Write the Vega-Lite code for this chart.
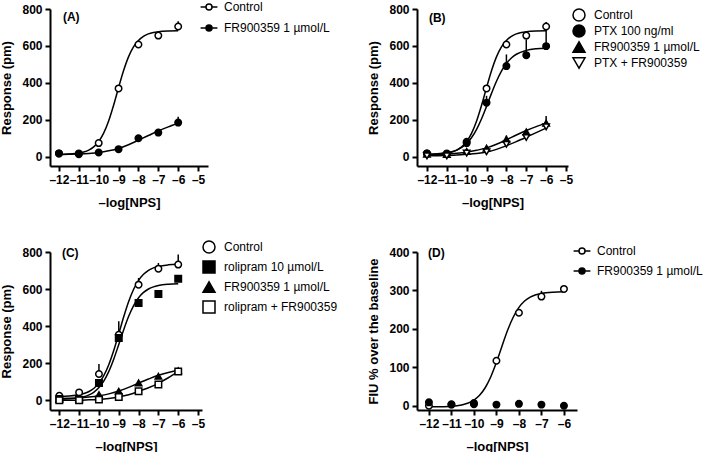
{
"$schema": "https://vega.github.io/schema/vega-lite/v6.json",
"padding": {"left": 0, "top": 0, "right": 0, "bottom": 0},
"background": "white",
"config": {
 "font": "Liberation Sans",
 "view": {"stroke": null},
 "axis": {"domainColor": "black", "domainWidth": 2, "tickColor": "black", "tickWidth": 2, "tickSize": 5, "labelFont": "Liberation Sans", "labelFontSize": 12, "labelFontWeight": "bold", "labelColor": "black", "titleFont": "Liberation Sans", "titleFontSize": 13, "titleFontWeight": "bold", "titleColor": "black", "grid": false, "labelOverlap": false, "labelFlush": false, "labelBound": false},
 "axisX": {"labelPadding": 3, "titlePadding": 11},
 "axisY": {"labelPadding": 3, "titlePadding": 8},
 "legend": {"title": null, "orient": "none", "direction": "vertical", "padding": 0, "labelFont": "Liberation Sans", "labelFontSize": 12, "labelColor": "black", "labelOffset": 8, "symbolSize": 144}
},
"datasets": {
 "pts": [
  {"p":"A","s":"Control","x":-12,"y":18,"hi":22},{"p":"A","s":"Control","x":-11,"y":18,"hi":22},{"p":"A","s":"Control","x":-10,"y":74,"hi":85},{"p":"A","s":"Control","x":-9,"y":370,"hi":380},{"p":"A","s":"Control","x":-8,"y":608,"hi":615},{"p":"A","s":"Control","x":-7,"y":656,"hi":662},{"p":"A","s":"Control","x":-6,"y":705,"hi":734},
  {"p":"A","s":"FR900359 1 µmol/L","x":-12,"y":18,"hi":18},{"p":"A","s":"FR900359 1 µmol/L","x":-11,"y":14,"hi":14},{"p":"A","s":"FR900359 1 µmol/L","x":-10,"y":23,"hi":23},{"p":"A","s":"FR900359 1 µmol/L","x":-9,"y":41,"hi":41},{"p":"A","s":"FR900359 1 µmol/L","x":-8,"y":100,"hi":104},{"p":"A","s":"FR900359 1 µmol/L","x":-7,"y":131,"hi":136},{"p":"A","s":"FR900359 1 µmol/L","x":-6,"y":185,"hi":216},
  {"p":"B","s":"Control","x":-12,"y":18,"hi":20},{"p":"B","s":"Control","x":-11,"y":18,"hi":20},{"p":"B","s":"Control","x":-10,"y":81,"hi":90},{"p":"B","s":"Control","x":-9,"y":370,"hi":380},{"p":"B","s":"Control","x":-8,"y":608,"hi":615},{"p":"B","s":"Control","x":-7,"y":656,"hi":662},{"p":"B","s":"Control","x":-6,"y":705,"hi":730},
  {"p":"B","s":"PTX 100 ng/ml","x":-12,"y":18,"hi":18},{"p":"B","s":"PTX 100 ng/ml","x":-11,"y":14,"hi":14},{"p":"B","s":"PTX 100 ng/ml","x":-10,"y":74,"hi":80},{"p":"B","s":"PTX 100 ng/ml","x":-9,"y":293,"hi":330},{"p":"B","s":"PTX 100 ng/ml","x":-8,"y":491,"hi":554},{"p":"B","s":"PTX 100 ng/ml","x":-7,"y":550,"hi":635},{"p":"B","s":"PTX 100 ng/ml","x":-6,"y":599,"hi":705},
  {"p":"B","s":"FR900359 1 µmol/L","x":-12,"y":14,"hi":14},{"p":"B","s":"FR900359 1 µmol/L","x":-11,"y":13,"hi":13},{"p":"B","s":"FR900359 1 µmol/L","x":-10,"y":29,"hi":29},{"p":"B","s":"FR900359 1 µmol/L","x":-9,"y":47,"hi":52},{"p":"B","s":"FR900359 1 µmol/L","x":-8,"y":95,"hi":115},{"p":"B","s":"FR900359 1 µmol/L","x":-7,"y":135,"hi":140},{"p":"B","s":"FR900359 1 µmol/L","x":-6,"y":182,"hi":221},
  {"p":"B","s":"PTX + FR900359","x":-12,"y":5,"hi":5},{"p":"B","s":"PTX + FR900359","x":-11,"y":5,"hi":5},{"p":"B","s":"PTX + FR900359","x":-10,"y":20,"hi":22},{"p":"B","s":"PTX + FR900359","x":-9,"y":27,"hi":30},{"p":"B","s":"PTX + FR900359","x":-8,"y":68,"hi":72},{"p":"B","s":"PTX + FR900359","x":-7,"y":104,"hi":110},{"p":"B","s":"PTX + FR900359","x":-6,"y":162,"hi":170},
  {"p":"C","s":"Control","x":-12,"y":25,"hi":28},{"p":"C","s":"Control","x":-11,"y":43,"hi":48},{"p":"C","s":"Control","x":-10,"y":142,"hi":196},{"p":"C","s":"Control","x":-9,"y":354,"hi":426},{"p":"C","s":"Control","x":-8,"y":624,"hi":660},{"p":"C","s":"Control","x":-7,"y":710,"hi":741},{"p":"C","s":"Control","x":-6,"y":732,"hi":786},
  {"p":"C","s":"rolipram 10 µmol/L","x":-12,"y":7,"hi":7},{"p":"C","s":"rolipram 10 µmol/L","x":-11,"y":4,"hi":4},{"p":"C","s":"rolipram 10 µmol/L","x":-10,"y":94,"hi":98},{"p":"C","s":"rolipram 10 µmol/L","x":-9,"y":336,"hi":345},{"p":"C","s":"rolipram 10 µmol/L","x":-8,"y":525,"hi":535},{"p":"C","s":"rolipram 10 µmol/L","x":-7,"y":574,"hi":574},{"p":"C","s":"rolipram 10 µmol/L","x":-6,"y":656,"hi":656},
  {"p":"C","s":"FR900359 1 µmol/L","x":-12,"y":7,"hi":7},{"p":"C","s":"FR900359 1 µmol/L","x":-11,"y":9,"hi":9},{"p":"C","s":"FR900359 1 µmol/L","x":-10,"y":31,"hi":35},{"p":"C","s":"FR900359 1 µmol/L","x":-9,"y":49,"hi":52},{"p":"C","s":"FR900359 1 µmol/L","x":-8,"y":94,"hi":96},{"p":"C","s":"FR900359 1 µmol/L","x":-7,"y":130,"hi":133},{"p":"C","s":"FR900359 1 µmol/L","x":-6,"y":160,"hi":162},
  {"p":"C","s":"rolipram + FR900359","x":-12,"y":0,"hi":0},{"p":"C","s":"rolipram + FR900359","x":-11,"y":0,"hi":0},{"p":"C","s":"rolipram + FR900359","x":-10,"y":4,"hi":4},{"p":"C","s":"rolipram + FR900359","x":-9,"y":18,"hi":20},{"p":"C","s":"rolipram + FR900359","x":-8,"y":49,"hi":52},{"p":"C","s":"rolipram + FR900359","x":-7,"y":85,"hi":88},{"p":"C","s":"rolipram + FR900359","x":-6,"y":156,"hi":160},
  {"p":"D","s":"Control","x":-12,"y":0,"hi":0},{"p":"D","s":"Control","x":-11,"y":3,"hi":3},{"p":"D","s":"Control","x":-10,"y":4,"hi":4},{"p":"D","s":"Control","x":-9,"y":117,"hi":117},{"p":"D","s":"Control","x":-8,"y":242,"hi":242},{"p":"D","s":"Control","x":-7,"y":284,"hi":299},{"p":"D","s":"Control","x":-6,"y":304,"hi":304},
  {"p":"D","s":"FR900359 1 µmol/L","x":-12,"y":9,"hi":9},{"p":"D","s":"FR900359 1 µmol/L","x":-11,"y":4,"hi":4},{"p":"D","s":"FR900359 1 µmol/L","x":-10,"y":7,"hi":7},{"p":"D","s":"FR900359 1 µmol/L","x":-9,"y":3,"hi":3},{"p":"D","s":"FR900359 1 µmol/L","x":-8,"y":5,"hi":5},{"p":"D","s":"FR900359 1 µmol/L","x":-7,"y":3,"hi":3},{"p":"D","s":"FR900359 1 µmol/L","x":-6,"y":0,"hi":0}
 ],
 "fit": [
  {"p":"A","s":"Control","x":-12,"y":12.8},{"p":"A","s":"Control","x":-11.5,"y":14.5},{"p":"A","s":"Control","x":-11,"y":19.8},{"p":"A","s":"Control","x":-10.75,"y":25.7},{"p":"A","s":"Control","x":-10.5,"y":36},{"p":"A","s":"Control","x":-10.25,"y":53.7},{"p":"A","s":"Control","x":-10,"y":82.6},{"p":"A","s":"Control","x":-9.75,"y":127.9},{"p":"A","s":"Control","x":-9.5,"y":193.8},{"p":"A","s":"Control","x":-9.25,"y":278.9},{"p":"A","s":"Control","x":-9,"y":374.5},{"p":"A","s":"Control","x":-8.75,"y":465.7},{"p":"A","s":"Control","x":-8.5,"y":540.8},{"p":"A","s":"Control","x":-8.25,"y":595},{"p":"A","s":"Control","x":-8,"y":630},{"p":"A","s":"Control","x":-7.75,"y":652.3},{"p":"A","s":"Control","x":-7.5,"y":665.4},{"p":"A","s":"Control","x":-7.25,"y":673},{"p":"A","s":"Control","x":-7,"y":677.3},{"p":"A","s":"Control","x":-6.5,"y":681.2},{"p":"A","s":"Control","x":-6,"y":682.4},
  {"p":"A","s":"FR","x":-12,"y":12},{"p":"A","s":"FR","x":-11.5,"y":13},{"p":"A","s":"FR","x":-11,"y":15},{"p":"A","s":"FR","x":-10.5,"y":18},{"p":"A","s":"FR","x":-10,"y":23},{"p":"A","s":"FR","x":-9.5,"y":32},{"p":"A","s":"FR","x":-9,"y":45},{"p":"A","s":"FR","x":-8.5,"y":65},{"p":"A","s":"FR","x":-8,"y":90},{"p":"A","s":"FR","x":-7.5,"y":115},{"p":"A","s":"FR","x":-7,"y":140},{"p":"A","s":"FR","x":-6.5,"y":162},{"p":"A","s":"FR","x":-6,"y":182},
  {"p":"B","s":"Control","x":-12,"y":12.8},{"p":"B","s":"Control","x":-11.5,"y":14.5},{"p":"B","s":"Control","x":-11,"y":19.8},{"p":"B","s":"Control","x":-10.75,"y":25.7},{"p":"B","s":"Control","x":-10.5,"y":36},{"p":"B","s":"Control","x":-10.25,"y":53.7},{"p":"B","s":"Control","x":-10,"y":82.6},{"p":"B","s":"Control","x":-9.75,"y":127.9},{"p":"B","s":"Control","x":-9.5,"y":193.8},{"p":"B","s":"Control","x":-9.25,"y":278.9},{"p":"B","s":"Control","x":-9,"y":374.5},{"p":"B","s":"Control","x":-8.75,"y":465.7},{"p":"B","s":"Control","x":-8.5,"y":540.8},{"p":"B","s":"Control","x":-8.25,"y":595},{"p":"B","s":"Control","x":-8,"y":630},{"p":"B","s":"Control","x":-7.75,"y":652.3},{"p":"B","s":"Control","x":-7.5,"y":665.4},{"p":"B","s":"Control","x":-7.25,"y":673},{"p":"B","s":"Control","x":-7,"y":677.3},{"p":"B","s":"Control","x":-6.5,"y":681.2},{"p":"B","s":"Control","x":-6,"y":682.4},
  {"p":"B","s":"PTX","x":-12,"y":13.3},{"p":"B","s":"PTX","x":-11.5,"y":15.5},{"p":"B","s":"PTX","x":-11,"y":21.3},{"p":"B","s":"PTX","x":-10.75,"y":27.1},{"p":"B","s":"PTX","x":-10.5,"y":36.2},{"p":"B","s":"PTX","x":-10.25,"y":50.4},{"p":"B","s":"PTX","x":-10,"y":72.1},{"p":"B","s":"PTX","x":-9.75,"y":104},{"p":"B","s":"PTX","x":-9.5,"y":148.4},{"p":"B","s":"PTX","x":-9.25,"y":205.7},{"p":"B","s":"PTX","x":-9,"y":272.8},{"p":"B","s":"PTX","x":-8.75,"y":343.1},{"p":"B","s":"PTX","x":-8.5,"y":408.7},{"p":"B","s":"PTX","x":-8.25,"y":463.5},{"p":"B","s":"PTX","x":-8,"y":505},{"p":"B","s":"PTX","x":-7.75,"y":535},{"p":"B","s":"PTX","x":-7.5,"y":555},{"p":"B","s":"PTX","x":-7,"y":576},{"p":"B","s":"PTX","x":-6.5,"y":584.8},{"p":"B","s":"PTX","x":-6,"y":588},
  {"p":"B","s":"FR","x":-12,"y":12},{"p":"B","s":"FR","x":-11.5,"y":13},{"p":"B","s":"FR","x":-11,"y":15},{"p":"B","s":"FR","x":-10.5,"y":19},{"p":"B","s":"FR","x":-10,"y":25},{"p":"B","s":"FR","x":-9.5,"y":35},{"p":"B","s":"FR","x":-9,"y":48},{"p":"B","s":"FR","x":-8.5,"y":68},{"p":"B","s":"FR","x":-8,"y":92},{"p":"B","s":"FR","x":-7.5,"y":118},{"p":"B","s":"FR","x":-7,"y":142},{"p":"B","s":"FR","x":-6.5,"y":163},{"p":"B","s":"FR","x":-6,"y":182},
  {"p":"B","s":"PTXFR","x":-12,"y":5},{"p":"B","s":"PTXFR","x":-11.5,"y":5.5},{"p":"B","s":"PTXFR","x":-11,"y":7},{"p":"B","s":"PTXFR","x":-10.5,"y":9},{"p":"B","s":"PTXFR","x":-10,"y":13},{"p":"B","s":"PTXFR","x":-9.5,"y":18},{"p":"B","s":"PTXFR","x":-9,"y":26},{"p":"B","s":"PTXFR","x":-8.5,"y":40},{"p":"B","s":"PTXFR","x":-8,"y":60},{"p":"B","s":"PTXFR","x":-7.5,"y":82},{"p":"B","s":"PTXFR","x":-7,"y":106},{"p":"B","s":"PTXFR","x":-6.5,"y":131},{"p":"B","s":"PTXFR","x":-6,"y":155},
  {"p":"C","s":"Control","x":-12,"y":21.3},{"p":"C","s":"Control","x":-11.5,"y":23.6},{"p":"C","s":"Control","x":-11,"y":30.1},{"p":"C","s":"Control","x":-10.75,"y":36.7},{"p":"C","s":"Control","x":-10.5,"y":47.7},{"p":"C","s":"Control","x":-10.25,"y":65.3},{"p":"C","s":"Control","x":-10,"y":92.9},{"p":"C","s":"Control","x":-9.75,"y":134.4},{"p":"C","s":"Control","x":-9.5,"y":193.4},{"p":"C","s":"Control","x":-9.25,"y":269.8},{"p":"C","s":"Control","x":-9,"y":359.1},{"p":"C","s":"Control","x":-8.75,"y":450.6},{"p":"C","s":"Control","x":-8.5,"y":533},{"p":"C","s":"Control","x":-8.25,"y":599.3},{"p":"C","s":"Control","x":-8,"y":647.4},{"p":"C","s":"Control","x":-7.75,"y":680},{"p":"C","s":"Control","x":-7.5,"y":701.2},{"p":"C","s":"Control","x":-7.25,"y":714.5},{"p":"C","s":"Control","x":-7,"y":722.6},{"p":"C","s":"Control","x":-6.5,"y":730.6},{"p":"C","s":"Control","x":-6,"y":733.4},
  {"p":"C","s":"ROL","x":-12,"y":6.1},{"p":"C","s":"ROL","x":-11.5,"y":8.2},{"p":"C","s":"ROL","x":-11,"y":13.8},{"p":"C","s":"ROL","x":-10.75,"y":19.6},{"p":"C","s":"ROL","x":-10.5,"y":29.2},{"p":"C","s":"ROL","x":-10.25,"y":44.6},{"p":"C","s":"ROL","x":-10,"y":68.7},{"p":"C","s":"ROL","x":-9.75,"y":105},{"p":"C","s":"ROL","x":-9.5,"y":156.5},{"p":"C","s":"ROL","x":-9.25,"y":223.4},{"p":"C","s":"ROL","x":-9,"y":301.4},{"p":"C","s":"ROL","x":-8.75,"y":381.3},{"p":"C","s":"ROL","x":-8.5,"y":453.5},{"p":"C","s":"ROL","x":-8.25,"y":511.3},{"p":"C","s":"ROL","x":-8,"y":553.4},{"p":"C","s":"ROL","x":-7.75,"y":582},{"p":"C","s":"ROL","x":-7.5,"y":600.5},{"p":"C","s":"ROL","x":-7.25,"y":612},{"p":"C","s":"ROL","x":-7,"y":619.2},{"p":"C","s":"ROL","x":-6.5,"y":626.1},{"p":"C","s":"ROL","x":-6,"y":628.6},
  {"p":"C","s":"FR","x":-12,"y":10},{"p":"C","s":"FR","x":-11.5,"y":11},{"p":"C","s":"FR","x":-11,"y":13},{"p":"C","s":"FR","x":-10.5,"y":18},{"p":"C","s":"FR","x":-10,"y":25},{"p":"C","s":"FR","x":-9.5,"y":35},{"p":"C","s":"FR","x":-9,"y":50},{"p":"C","s":"FR","x":-8.5,"y":70},{"p":"C","s":"FR","x":-8,"y":93},{"p":"C","s":"FR","x":-7.5,"y":115},{"p":"C","s":"FR","x":-7,"y":135},{"p":"C","s":"FR","x":-6.5,"y":150},{"p":"C","s":"FR","x":-6,"y":162},
  {"p":"C","s":"ROLFR","x":-12,"y":0},{"p":"C","s":"ROLFR","x":-11.5,"y":0.5},{"p":"C","s":"ROLFR","x":-11,"y":1},{"p":"C","s":"ROLFR","x":-10.5,"y":3},{"p":"C","s":"ROLFR","x":-10,"y":5},{"p":"C","s":"ROLFR","x":-9.5,"y":10},{"p":"C","s":"ROLFR","x":-9,"y":18},{"p":"C","s":"ROLFR","x":-8.5,"y":30},{"p":"C","s":"ROLFR","x":-8,"y":48},{"p":"C","s":"ROLFR","x":-7.5,"y":68},{"p":"C","s":"ROLFR","x":-7,"y":92},{"p":"C","s":"ROLFR","x":-6.5,"y":122},{"p":"C","s":"ROLFR","x":-6,"y":155},
  {"p":"D","s":"Control","x":-12,"y":-2.8},{"p":"D","s":"Control","x":-11.5,"y":-2.4},{"p":"D","s":"Control","x":-11,"y":-1.1},{"p":"D","s":"Control","x":-10.75,"y":0.3},{"p":"D","s":"Control","x":-10.5,"y":2.9},{"p":"D","s":"Control","x":-10.25,"y":7.3},{"p":"D","s":"Control","x":-10,"y":14.8},{"p":"D","s":"Control","x":-9.75,"y":27.3},{"p":"D","s":"Control","x":-9.5,"y":46.9},{"p":"D","s":"Control","x":-9.25,"y":75.6},{"p":"D","s":"Control","x":-9,"y":113.1},{"p":"D","s":"Control","x":-8.75,"y":155.6},{"p":"D","s":"Control","x":-8.5,"y":196.9},{"p":"D","s":"Control","x":-8.25,"y":231},{"p":"D","s":"Control","x":-8,"y":256},{"p":"D","s":"Control","x":-7.75,"y":272.5},{"p":"D","s":"Control","x":-7.5,"y":282.7},{"p":"D","s":"Control","x":-7.25,"y":288.8},{"p":"D","s":"Control","x":-7,"y":292.3},{"p":"D","s":"Control","x":-6.5,"y":295.5},{"p":"D","s":"Control","x":-6,"y":296.5}
 ]
},
"columns": 2,
"bounds": "flush",
"align": "all",
"spacing": {"row": 85, "column": 207},
"resolve": {"scale": {"x": "independent", "y": "independent", "shape": "independent", "fill": "independent"}, "legend": {"shape": "independent", "fill": "independent"}},
"concat": [
 {"width": 158, "height": 157,
  "layer": [
   {"data": {"name": "fit"}, "transform": [{"filter": "datum.p == 'A'"}],
    "mark": {"type": "line", "color": "black", "strokeWidth": 1.5, "interpolate": "monotone"},
    "encoding": {
     "x": {"field": "x", "type": "quantitative", "scale": {"domain": [-12.45, -4.5], "nice": false, "zero": false}, "axis": {"values": [-12,-11,-10,-9,-8,-7,-6,-5], "title": "–log[NPS]", "labelExpr": "replace(datum.label, '−', '–')"}},
     "y": {"field": "y", "type": "quantitative", "scale": {"domain": [-50, 800], "nice": false, "zero": false}, "axis": {"values": [0,200,400,600,800], "title": "Response (pm)"}},
     "detail": {"field": "s", "type": "nominal"}}},
   {"data": {"name": "pts"}, "transform": [{"filter": "datum.p == 'A'"}],
    "mark": {"type": "rule", "color": "black", "strokeWidth": 1.5},
    "encoding": {
     "x": {"field": "x", "type": "quantitative", "scale": {"domain": [-12.45, -4.5], "nice": false, "zero": false}, "axis": {"values": [-12,-11,-10,-9,-8,-7,-6,-5], "title": "–log[NPS]", "labelExpr": "replace(datum.label, '−', '–')"}},
     "y": {"field": "y", "type": "quantitative", "scale": {"domain": [-50, 800], "nice": false, "zero": false}, "axis": {"values": [0,200,400,600,800], "title": "Response (pm)"}},
     "y2": {"field": "hi"}}},
   {"data": {"name": "pts"}, "transform": [{"filter": "datum.p == 'A'"}],
    "mark": {"type": "point", "filled": true, "stroke": "black", "strokeWidth": 1.5, "size": 42, "opacity": 1},
    "encoding": {
     "x": {"field": "x", "type": "quantitative", "scale": {"domain": [-12.45, -4.5], "nice": false, "zero": false}, "axis": {"values": [-12,-11,-10,-9,-8,-7,-6,-5], "title": "–log[NPS]", "labelExpr": "replace(datum.label, '−', '–')"}},
     "y": {"field": "y", "type": "quantitative", "scale": {"domain": [-50, 800], "nice": false, "zero": false}, "axis": {"values": [0,200,400,600,800], "title": "Response (pm)"}},
     "shape": {"field": "s", "type": "nominal", "scale": {"domain": ["Control", "FR900359 1 µmol/L", "zz"], "range": ["circle", "circle", "circle"]}, "legend": null},
     "fill": {"field": "s", "type": "nominal", "scale": {"domain": ["Control", "FR900359 1 µmol/L"], "range": ["white", "black"]},
      "legend": {"legendX": 152, "legendY": -9, "rowPadding": 8, "symbolType": "M-1.4,0H-0.5M0.5,0H1.4M-0.5,0A0.5,0.5 0 1,1 0.5,0A0.5,0.5 0 1,1 -0.5,0Z",
       "encode": {"symbols": {
        "shape": {"value": "M-1.4,0H-0.5M0.5,0H1.4M-0.5,0A0.5,0.5 0 1,1 0.5,0A0.5,0.5 0 1,1 -0.5,0Z"},
        "stroke": {"value": "black"}, "strokeWidth": {"value": 1.5}, "size": {"value": 144}, "opacity": {"value": 1}}}}}}},
   {"data": {"values": [{"t": "(A)"}]},
    "mark": {"type": "text", "font": "Liberation Sans", "fontSize": 12, "fontWeight": "bold", "align": "left", "baseline": "middle", "color": "black"},
    "encoding": {
     "x": {"datum": -11.8, "type": "quantitative", "scale": {"domain": [-12.45, -4.5], "nice": false, "zero": false}, "axis": {"values": [-12,-11,-10,-9,-8,-7,-6,-5], "title": "–log[NPS]", "labelExpr": "replace(datum.label, '−', '–')"}},
     "y": {"datum": 757, "type": "quantitative", "scale": {"domain": [-50, 800], "nice": false, "zero": false}, "axis": {"values": [0,200,400,600,800], "title": "Response (pm)"}},
     "text": {"field": "t"}}}
  ]},
 {"width": 151, "height": 157,
  "layer": [
   {"data": {"name": "fit"}, "transform": [{"filter": "datum.p == 'B'"}],
    "mark": {"type": "line", "color": "black", "strokeWidth": 1.5, "interpolate": "monotone"},
    "encoding": {
     "x": {"field": "x", "type": "quantitative", "scale": {"domain": [-12.5, -4.9], "nice": false, "zero": false}, "axis": {"values": [-12,-11,-10,-9,-8,-7,-6,-5], "title": "–log[NPS]", "labelExpr": "replace(datum.label, '−', '–')"}},
     "y": {"field": "y", "type": "quantitative", "scale": {"domain": [-50, 800], "nice": false, "zero": false}, "axis": {"values": [0,200,400,600,800], "title": "Response (pm)"}},
     "detail": {"field": "s", "type": "nominal"}}},
   {"data": {"name": "pts"}, "transform": [{"filter": "datum.p == 'B'"}],
    "mark": {"type": "rule", "color": "black", "strokeWidth": 1.5},
    "encoding": {
     "x": {"field": "x", "type": "quantitative", "scale": {"domain": [-12.5, -4.9], "nice": false, "zero": false}, "axis": {"values": [-12,-11,-10,-9,-8,-7,-6,-5], "title": "–log[NPS]", "labelExpr": "replace(datum.label, '−', '–')"}},
     "y": {"field": "y", "type": "quantitative", "scale": {"domain": [-50, 800], "nice": false, "zero": false}, "axis": {"values": [0,200,400,600,800], "title": "Response (pm)"}},
     "y2": {"field": "hi"}}},
   {"data": {"name": "pts"}, "transform": [{"filter": "datum.p == 'B'"}],
    "mark": {"type": "point", "filled": true, "stroke": "black", "strokeWidth": 1.5, "size": 42, "opacity": 1},
    "encoding": {
     "x": {"field": "x", "type": "quantitative", "scale": {"domain": [-12.5, -4.9], "nice": false, "zero": false}, "axis": {"values": [-12,-11,-10,-9,-8,-7,-6,-5], "title": "–log[NPS]", "labelExpr": "replace(datum.label, '−', '–')"}},
     "y": {"field": "y", "type": "quantitative", "scale": {"domain": [-50, 800], "nice": false, "zero": false}, "axis": {"values": [0,200,400,600,800], "title": "Response (pm)"}},
     "shape": {"field": "s", "type": "nominal", "scale": {"domain": ["Control", "PTX 100 ng/ml", "FR900359 1 µmol/L", "PTX + FR900359"], "range": ["circle", "circle", "triangle-up", "triangle-down"]},
      "legend": {"legendX": 155, "legendY": -1, "rowPadding": -2.3,
       "encode": {"symbols": {"stroke": {"value": "black"}, "strokeWidth": {"value": 1.5}, "size": {"value": 110}, "opacity": {"value": 1}}}}},
     "fill": {"field": "s", "type": "nominal", "scale": {"domain": ["Control", "PTX 100 ng/ml", "FR900359 1 µmol/L", "PTX + FR900359"], "range": ["white", "black", "black", "white"]},
      "legend": {"legendX": 155, "legendY": -1, "rowPadding": -2.3,
       "encode": {"symbols": {"stroke": {"value": "black"}, "strokeWidth": {"value": 1.5}, "size": {"value": 110}, "opacity": {"value": 1}}}}}}},
   {"data": {"values": [{"t": "(B)"}]},
    "mark": {"type": "text", "font": "Liberation Sans", "fontSize": 12, "fontWeight": "bold", "align": "left", "baseline": "middle", "color": "black"},
    "encoding": {
     "x": {"datum": -11.9, "type": "quantitative", "scale": {"domain": [-12.5, -4.9], "nice": false, "zero": false}, "axis": {"values": [-12,-11,-10,-9,-8,-7,-6,-5], "title": "–log[NPS]", "labelExpr": "replace(datum.label, '−', '–')"}},
     "y": {"datum": 751, "type": "quantitative", "scale": {"domain": [-50, 800], "nice": false, "zero": false}, "axis": {"values": [0,200,400,600,800], "title": "Response (pm)"}},
     "text": {"field": "t"}}}
  ]},
 {"width": 152, "height": 158,
  "layer": [
   {"data": {"name": "fit"}, "transform": [{"filter": "datum.p == 'C'"}],
    "mark": {"type": "line", "color": "black", "strokeWidth": 1.5, "interpolate": "monotone"},
    "encoding": {
     "x": {"field": "x", "type": "quantitative", "scale": {"domain": [-12.47, -4.8], "nice": false, "zero": false}, "axis": {"values": [-12,-11,-10,-9,-8,-7,-6,-5], "title": "–log[NPS]", "labelExpr": "replace(datum.label, '−', '–')"}},
     "y": {"field": "y", "type": "quantitative", "scale": {"domain": [-52, 800], "nice": false, "zero": false}, "axis": {"values": [0,200,400,600,800], "title": "Response (pm)"}},
     "detail": {"field": "s", "type": "nominal"}}},
   {"data": {"name": "pts"}, "transform": [{"filter": "datum.p == 'C'"}],
    "mark": {"type": "rule", "color": "black", "strokeWidth": 1.5},
    "encoding": {
     "x": {"field": "x", "type": "quantitative", "scale": {"domain": [-12.47, -4.8], "nice": false, "zero": false}, "axis": {"values": [-12,-11,-10,-9,-8,-7,-6,-5], "title": "–log[NPS]", "labelExpr": "replace(datum.label, '−', '–')"}},
     "y": {"field": "y", "type": "quantitative", "scale": {"domain": [-52, 800], "nice": false, "zero": false}, "axis": {"values": [0,200,400,600,800], "title": "Response (pm)"}},
     "y2": {"field": "hi"}}},
   {"data": {"name": "pts"}, "transform": [{"filter": "datum.p == 'C'"}],
    "mark": {"type": "point", "filled": true, "stroke": "black", "strokeWidth": 1.5, "size": 42, "opacity": 1},
    "encoding": {
     "x": {"field": "x", "type": "quantitative", "scale": {"domain": [-12.47, -4.8], "nice": false, "zero": false}, "axis": {"values": [-12,-11,-10,-9,-8,-7,-6,-5], "title": "–log[NPS]", "labelExpr": "replace(datum.label, '−', '–')"}},
     "y": {"field": "y", "type": "quantitative", "scale": {"domain": [-52, 800], "nice": false, "zero": false}, "axis": {"values": [0,200,400,600,800], "title": "Response (pm)"}},
     "shape": {"field": "s", "type": "nominal", "scale": {"domain": ["Control", "rolipram 10 µmol/L", "FR900359 1 µmol/L", "rolipram + FR900359"], "range": ["circle", "square", "triangle-up", "square"]},
      "legend": {"legendX": 152, "legendY": -12, "rowPadding": 2,
       "encode": {"symbols": {"stroke": {"value": "black"}, "strokeWidth": {"value": 1.5}, "size": {"value": 110}, "opacity": {"value": 1}}}}},
     "fill": {"field": "s", "type": "nominal", "scale": {"domain": ["Control", "rolipram 10 µmol/L", "FR900359 1 µmol/L", "rolipram + FR900359"], "range": ["white", "black", "black", "white"]},
      "legend": {"legendX": 152, "legendY": -12, "rowPadding": 2,
       "encode": {"symbols": {"stroke": {"value": "black"}, "strokeWidth": {"value": 1.5}, "size": {"value": 110}, "opacity": {"value": 1}}}}}}},
   {"data": {"values": [{"t": "(C)"}]},
    "mark": {"type": "text", "font": "Liberation Sans", "fontSize": 12, "fontWeight": "bold", "align": "left", "baseline": "middle", "color": "black"},
    "encoding": {
     "x": {"datum": -11.87, "type": "quantitative", "scale": {"domain": [-12.47, -4.8], "nice": false, "zero": false}, "axis": {"values": [-12,-11,-10,-9,-8,-7,-6,-5], "title": "–log[NPS]", "labelExpr": "replace(datum.label, '−', '–')"}},
     "y": {"datum": 795, "type": "quantitative", "scale": {"domain": [-52, 800], "nice": false, "zero": false}, "axis": {"values": [0,200,400,600,800], "title": "Response (pm)"}},
     "text": {"field": "t"}}}
  ]},
 {"width": 160, "height": 158,
  "layer": [
   {"data": {"name": "fit"}, "transform": [{"filter": "datum.p == 'D'"}],
    "mark": {"type": "line", "color": "black", "strokeWidth": 1.5, "interpolate": "monotone"},
    "encoding": {
     "x": {"field": "x", "type": "quantitative", "scale": {"domain": [-12.53, -5.42], "nice": false, "zero": false}, "axis": {"values": [-12,-11,-10,-9,-8,-7,-6], "title": "–log[NPS]", "labelExpr": "replace(datum.label, '−', '–')"}},
     "y": {"field": "y", "type": "quantitative", "scale": {"domain": [-11, 400], "nice": false, "zero": false}, "axis": {"values": [0,100,200,300,400], "title": "FIU % over the baseline"}},
     "detail": {"field": "s", "type": "nominal"}}},
   {"data": {"name": "pts"}, "transform": [{"filter": "datum.p == 'D'"}],
    "mark": {"type": "rule", "color": "black", "strokeWidth": 1.5},
    "encoding": {
     "x": {"field": "x", "type": "quantitative", "scale": {"domain": [-12.53, -5.42], "nice": false, "zero": false}, "axis": {"values": [-12,-11,-10,-9,-8,-7,-6], "title": "–log[NPS]", "labelExpr": "replace(datum.label, '−', '–')"}},
     "y": {"field": "y", "type": "quantitative", "scale": {"domain": [-11, 400], "nice": false, "zero": false}, "axis": {"values": [0,100,200,300,400], "title": "FIU % over the baseline"}},
     "y2": {"field": "hi"}}},
   {"data": {"name": "pts"}, "transform": [{"filter": "datum.p == 'D'"}],
    "mark": {"type": "point", "filled": true, "stroke": "black", "strokeWidth": 1.5, "size": 42, "opacity": 1},
    "encoding": {
     "x": {"field": "x", "type": "quantitative", "scale": {"domain": [-12.53, -5.42], "nice": false, "zero": false}, "axis": {"values": [-12,-11,-10,-9,-8,-7,-6], "title": "–log[NPS]", "labelExpr": "replace(datum.label, '−', '–')"}},
     "y": {"field": "y", "type": "quantitative", "scale": {"domain": [-11, 400], "nice": false, "zero": false}, "axis": {"values": [0,100,200,300,400], "title": "FIU % over the baseline"}},
     "shape": {"field": "s", "type": "nominal", "scale": {"domain": ["Control", "FR900359 1 µmol/L", "zz"], "range": ["circle", "circle", "circle"]}, "legend": null},
     "fill": {"field": "s", "type": "nominal", "scale": {"domain": ["Control", "FR900359 1 µmol/L"], "range": ["white", "black"]},
      "legend": {"legendX": 158, "legendY": -8, "rowPadding": 7, "symbolType": "M-1.4,0H-0.5M0.5,0H1.4M-0.5,0A0.5,0.5 0 1,1 0.5,0A0.5,0.5 0 1,1 -0.5,0Z",
       "encode": {"symbols": {
        "shape": {"value": "M-1.4,0H-0.5M0.5,0H1.4M-0.5,0A0.5,0.5 0 1,1 0.5,0A0.5,0.5 0 1,1 -0.5,0Z"},
        "stroke": {"value": "black"}, "strokeWidth": {"value": 1.5}, "size": {"value": 144}, "opacity": {"value": 1}}}}}}},
   {"data": {"values": [{"t": "(D)"}]},
    "mark": {"type": "text", "font": "Liberation Sans", "fontSize": 12, "fontWeight": "bold", "align": "left", "baseline": "middle", "color": "black"},
    "encoding": {
     "x": {"datum": -12.04, "type": "quantitative", "scale": {"domain": [-12.53, -5.42], "nice": false, "zero": false}, "axis": {"values": [-12,-11,-10,-9,-8,-7,-6], "title": "–log[NPS]", "labelExpr": "replace(datum.label, '−', '–')"}},
     "y": {"datum": 397, "type": "quantitative", "scale": {"domain": [-11, 400], "nice": false, "zero": false}, "axis": {"values": [0,100,200,300,400], "title": "FIU % over the baseline"}},
     "text": {"field": "t"}}}
  ]}
]
}
